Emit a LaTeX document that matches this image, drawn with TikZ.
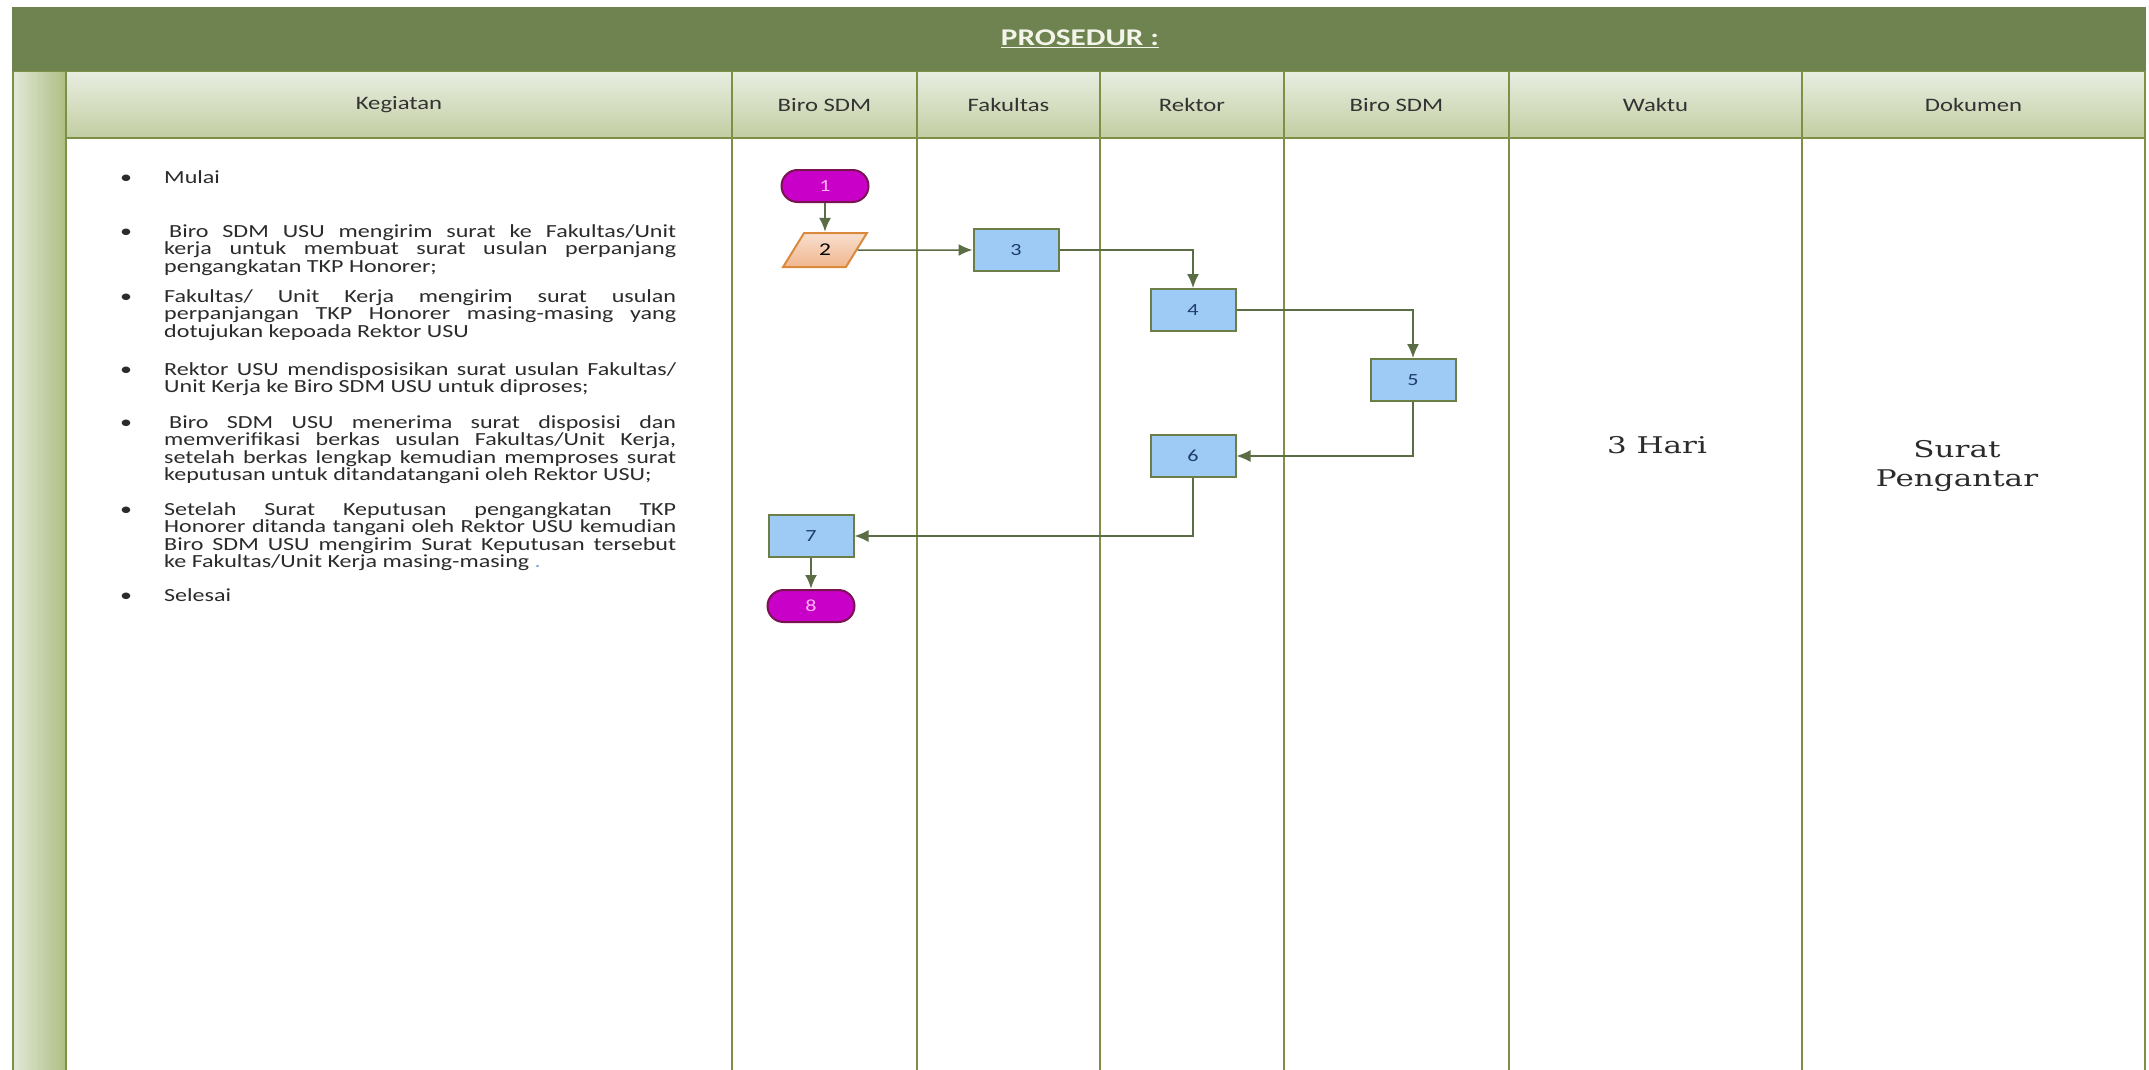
\documentclass[tikz,border=0pt]{standalone}
\usepackage{fontspec}
\setmainfont[FakeStretch=1.3]{Carlito}
\newfontfamily\wideserif[FakeStretch=1.35]{DejaVu Serif}
\usetikzlibrary{shapes.geometric,arrows.meta}
\definecolor{bandgreen}{HTML}{6E834F}
\definecolor{gridgreen}{HTML}{7E9046}
\definecolor{hdrtop}{HTML}{E8EDE0}
\definecolor{hdrbot}{HTML}{C2CEA2}
\definecolor{striplight}{HTML}{E2E8D6}
\definecolor{stripdark}{HTML}{AEBF85}
\definecolor{boxblue}{HTML}{9DCBF5}
\definecolor{boxedge}{HTML}{6B7E46}
\definecolor{flowgreen}{HTML}{5B6D45}
\definecolor{termfill}{HTML}{C800C8}
\definecolor{termedge}{HTML}{7A1450}
\definecolor{termtext}{HTML}{FFB4F4}
\definecolor{peachtop}{HTML}{F8E0D0}
\definecolor{peachbot}{HTML}{F1B68D}
\definecolor{peachedge}{HTML}{D98A3C}
\definecolor{boxtext}{HTML}{1F3B6A}
\definecolor{hdrtext}{HTML}{333333}
\definecolor{titletext}{HTML}{F3F5EA}
\definecolor{bodytext}{HTML}{2B2B2B}
\definecolor{markblue}{HTML}{7FA6D9}
\newcommand{\kegitem}[1]{\lineskiplimit=-100pt\relax\hyphenpenalty=10000\relax\tolerance=9999\relax
    \noindent\hangindent=44pt\relax\hangafter=1\relax\makebox[44pt][l]{\textbullet}\strut#1\par}
\begin{document}
\begin{tikzpicture}[x=1pt,y=-1pt,
    every node/.style={inner sep=0pt},
    grid/.style={gridgreen,line width=2.6pt},
    hdr/.style={font=\fontsize{19}{22}\selectfont,text=hdrtext},
    item/.style={anchor=north west,text width=556pt,align=justify,text=bodytext,
        font=\fontsize{18.5}{17.6}\selectfont},
    wide/.style={font=\wideserif\fontsize{23}{29}\selectfont,text=bodytext,align=center},
    proc/.style={rectangle,draw=boxedge,fill=boxblue,line width=2pt,minimum width=85pt,
        minimum height=42pt,text=boxtext,font=\fontsize{17}{17}\selectfont},
    term/.style={rectangle,rounded corners=16pt,draw=termedge,fill=termfill,line width=2pt,
        minimum width=87pt,minimum height=32pt,text=termtext,font=\fontsize{17}{17}\selectfont},
    io/.style={trapezium,trapezium left angle=63,trapezium right angle=117,trapezium stretches=true,
        draw=peachedge,top color=peachtop,bottom color=peachbot,line width=2pt,
        minimum width=84pt,minimum height=34pt,font=\fontsize{18}{18}\selectfont},
    flow/.style={flowgreen,line width=1.5pt,-{Latex[length=14pt,width=12pt]}},
    flowthick/.style={flow,line width=2.6pt}]
    \useasboundingbox (0,0) rectangle (2149,1070);
    \fill [white] (0,0) rectangle (2149,1070);
    \fill [bandgreen] (12,7) rectangle (2146,72);
    \shade [top color=hdrtop,bottom color=hdrbot] (66,72) rectangle (2145,138);
    \shade [left color=striplight,right color=stripdark] (13,72) rectangle (65,1070);
    \draw [gridgreen,line width=1pt] (13,72) -- (2145,72);
    \draw [grid] (13,72) -- (13,1070);
    \draw [grid] (66,72) -- (66,1070);
    \draw [grid] (732,72) -- (732,1070);
    \draw [grid] (917,72) -- (917,1070);
    \draw [grid] (1100,72) -- (1100,1070);
    \draw [grid] (1284,72) -- (1284,1070);
    \draw [grid] (1509,72) -- (1509,1070);
    \draw [grid] (1802,72) -- (1802,1070);
    \draw [grid] (2145,72) -- (2145,1070);
    \draw [grid] (66,138) -- (2145,138);
    \node [font=\bfseries\fontsize{24}{24}\selectfont,text=titletext] (title) at (1080,39) {\underline{PROSEDUR :}};
    \node [hdr] (hkeg) at (399,105) {Kegiatan};
    \node [hdr] (hbiro) at (824.5,105) {Biro SDM};
    \node [hdr] (hfak) at (1008.5,105) {Fakultas};
    \node [hdr] (hrek) at (1192,105) {Rektor};
    \node [hdr] (hbirob) at (1396.5,105) {Biro SDM};
    \node [hdr] (hwak) at (1655.5,105) {Waktu};
    \node [hdr] (hdok) at (1973.5,105) {Dokumen};
    \node [item] (k1) at (120,170) {\kegitem{Mulai}};
    \node [item] (k2) at (120,224) {\kegitem{\hspace{5pt}Biro SDM USU mengirim surat ke Fakultas/Unit\linebreak kerja untuk membuat surat usulan perpanjang\linebreak pengangkatan TKP Honorer;}};
    \node [item] (k3) at (120,289) {\kegitem{Fakultas/ Unit Kerja mengirim surat usulan\linebreak perpanjangan TKP Honorer masing-masing yang\linebreak dotujukan kepoada Rektor USU}};
    \node [item] (k4) at (120,362) {\kegitem{Rektor USU mendisposisikan surat usulan Fakultas/\linebreak Unit Kerja ke Biro SDM USU untuk diproses;}};
    \node [item] (k5) at (120,415) {\kegitem{\hspace{5pt}Biro SDM USU menerima surat disposisi dan\linebreak memverifikasi berkas usulan Fakultas/Unit Kerja,\linebreak setelah berkas lengkap kemudian memproses surat\linebreak keputusan untuk ditandatangani oleh Rektor USU;}};
    \node [item] (k6) at (120,502) {\kegitem{Setelah Surat Keputusan pengangkatan TKP\linebreak Honorer ditanda tangani oleh Rektor USU kemudian\linebreak Biro SDM USU mengirim Surat Keputusan tersebut\linebreak ke Fakultas/Unit Kerja masing-masing {\color{markblue}.}}};
    \node [item] (k7) at (120,588) {\kegitem{Selesai}};
    \node [wide] (waktu) at (1657,445) {3 Hari};
    \node [wide] (dokumen) at (1957,466) {Surat\\Pengantar};
    \node [term] (n1) at (825,186) {1};
    \node [io] (n2) at (825,250) {2};
    \node [proc] (n3) at (1016,250) {3};
    \node [proc] (n4) at (1193,310) {4};
    \node [proc] (n5) at (1413,380) {5};
    \node [proc] (n6) at (1193,456) {6};
    \node [proc] (n7) at (811,536) {7};
    \node [term] (n8) at (811,606) {8};
    \draw [flowthick] (n1) -- (n2);
    \draw [flow] (n2) -- (n3);
    \draw [flow] (n3) -| (n4);
    \draw [flow] (n4) -| (n5);
    \draw [flow] (n5) |- (n6);
    \draw [flow] (n6) |- (n7);
    \draw [flowthick] (n7) -- (n8);
\end{tikzpicture}
\end{document}
